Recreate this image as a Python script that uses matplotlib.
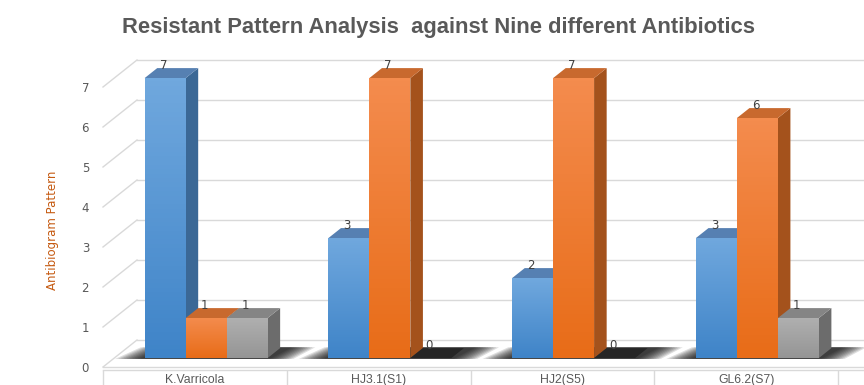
import matplotlib

matplotlib.use("Agg")
import matplotlib.pyplot as plt
import numpy as np
from matplotlib.colors import LinearSegmentedColormap

# data
categories = ["K.Varricola", "HJ3.1(S1)", "HJ2(S5)", "GL6.2(S7)"]
blue_vals = [7, 3, 2, 3]
orange_vals = [1, 7, 7, 6]
gray_vals = [1, 0, 0, 1]
yticks = [0, 1, 2, 3, 4, 5, 6, 7]

title = "Resistant Pattern Analysis  against Nine different Antibiotics"
ylabel = "Antibiogram Pattern"

# face colours: (front top, front bottom, side, top)
series = [
    (blue_vals, ("#70a8de", "#3f84c8", "#3b6896", "#5680b2")),
    (orange_vals, ("#f48c4e", "#e86c18", "#a4521c", "#c8692e")),
    (gray_vals, ("#b0b0b0", "#959595", "#6c6c6c", "#858585")),
]

fig = plt.figure(figsize=(8.64, 3.85), dpi=100)
ax = fig.add_axes([103 / 864, 18 / 385, 735 / 864, 312 / 385])
XLIM, YLIM = (-0.5, 3.5), (0, 7.8)

# fake 3D: one unit of depth shifts a point this much in data units
SX = 34 / 183.75
SY = 27 / 40
D0, D1 = 0.33, 0.70  # bar front / back depth
W = 0.223


def shift(x, y, d):
    return x + d * SX, y + d * SY


grid_c = "#d9d9d9"
for v in yticks:
    bx0, by = shift(-0.5, v, 1)
    ax.plot([bx0, 3.8], [by, by], color=grid_c, lw=1, clip_on=False, zorder=0)
    ax.plot([-0.5, bx0], [v, by], color=grid_c, lw=1, clip_on=False, zorder=0)
# front floor edge
ax.plot([-0.5, 3.8], [0, 0], color=grid_c, lw=1, clip_on=False, zorder=0)

# soft floor shadow under each group, fading outwards
for i in range(len(categories)):
    left = i - 1.5 * W
    right = i + 1.5 * W
    for k in range(10):
        gl = 0.015 * (9 - k)
        gr = 0.014 * (9 - k)
        pts = [shift(left - 0.02 - gl, 0, D0 - 0.03), shift(right + 0.02 + gr, 0, D0 - 0.03),
               shift(right + 0.06 + gr, 0, D1 + 0.03), shift(left + 0.04 - gl, 0, D1 + 0.03)]
        ax.fill(*zip(*pts), color="black", alpha=0.13, lw=0, zorder=1, clip_on=False)

z = 2
for i in range(len(categories)):
    for j, (vals, (c_top, c_bot, c_side, c_cap)) in enumerate(series):
        v = vals[i]
        xl = i + (j - 1) * W - W / 2
        xr = xl + W
        if v > 0:
            side = [shift(xr, 0, D0), shift(xr, v, D0), shift(xr, v, D1), shift(xr, 0, D1)]
            ax.fill(*zip(*side), color=c_side, lw=0, zorder=z, clip_on=False)
            z += 1
        cap_c = c_cap if v > 0 else "#262626"
        top = [shift(xl, v, D0), shift(xr, v, D0), shift(xr, v, D1), shift(xl, v, D1)]
        ax.fill(*zip(*top), color=cap_c, lw=0, zorder=z, clip_on=False)
        z += 1
        if v > 0:
            fx, fy = shift(xl, 0, D0)
            bar = ax.bar(fx, v, width=W, bottom=fy, align="edge", color=c_bot,
                         lw=0, zorder=z)[0]
            cmap = LinearSegmentedColormap.from_list("g", [c_bot, c_top])
            grad = np.linspace(0, 1, 64).reshape(-1, 1)
            im = ax.imshow(grad, extent=[fx, fx + W, fy, fy + v], origin="lower",
                           aspect="auto", cmap=cmap, zorder=z + 0.5)
            im.set_clip_path(bar)
            z += 1
        lx, ly = shift(xl + W / 2, v, D0)
        ax.text(lx - 0.01, ly + 0.32, str(v), ha="center", va="center",
                fontsize=8.5, color="#404040", zorder=200)

ax.set_xlim(*XLIM)
ax.set_ylim(*YLIM)
for s in ax.spines.values():
    s.set_visible(False)

ax.set_yticks(yticks)
ax.tick_params(axis="y", length=0, pad=10, labelsize=8.5, labelcolor="#595959")
ax.set_xticks(range(len(categories)), categories)
ax.tick_params(axis="x", length=0, pad=5, labelsize=8.8, labelcolor="#595959")
for lab in ax.get_xticklabels():
    lab.set_fontfamily(["Liberation Sans", "DejaVu Sans"])

# category box under the floor
xt = ax.get_xaxis_transform()
ax.plot([-0.5, 3.8], [-0.01, -0.01], color=grid_c, lw=1, transform=xt, clip_on=False)
ax.vlines([-0.5, 0.5, 1.5, 2.5, 3.5], -0.07, -0.01, color=grid_c, lw=1,
          transform=xt, clip_on=False)

ax.set_ylabel(ylabel, color="#c55a11", fontsize=8.5)
ax.yaxis.set_label_coords(-0.06, (367 - 230) / 312)
fig.text(439 / 864, 1 - 27 / 385, title, ha="center", va="center",
         fontsize=15.8, fontweight="bold", color="#595959",
         family=["Liberation Sans", "DejaVu Sans"])

fig.savefig("out.png", dpi=100)
